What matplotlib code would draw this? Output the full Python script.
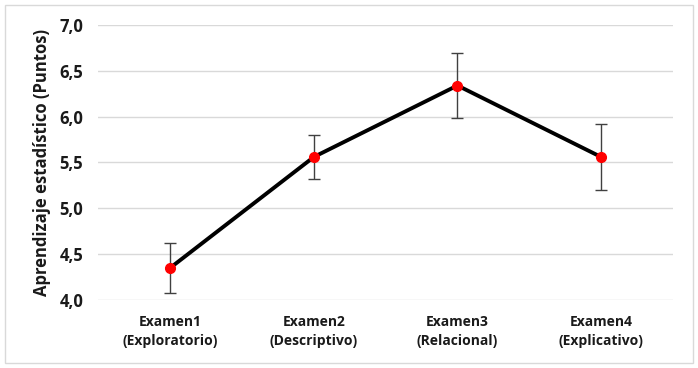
import numpy as np
import matplotlib.pyplot as plt
from matplotlib.patches import Rectangle
from matplotlib.ticker import FuncFormatter

# Data
examenes = ["Examen1\n(Exploratorio)", "Examen2\n(Descriptivo)",
            "Examen3\n(Relacional)", "Examen4\n(Explicativo)"]
medias = [4.35, 5.56, 6.34, 5.56]
errores = [0.27, 0.24, 0.36, 0.36]
yticks = [4.0, 4.5, 5.0, 5.5, 6.0, 6.5, 7.0]

plt.rcParams['font.family'] = ['Open Sans', 'DejaVu Sans']
plt.rcParams['font.weight'] = 'bold'

fig = plt.figure(figsize=(6.98, 3.68), dpi=100)
ax = fig.add_axes([0.141, 0.185, 0.823, 0.747])

x = np.arange(len(examenes))
ax.errorbar(x, medias, yerr=errores, fmt='none', ecolor='#404040',
            elinewidth=1, capsize=4, capthick=1, zorder=2)
ax.plot(x, medias, color='black', lw=2.8, zorder=3)
ax.plot(x, medias, 'o', color='#ff0000', ms=7, zorder=4)

ax.set_xlim(-0.5, len(examenes) - 0.5)
ax.set_ylim(4.0, 7.0)
ax.set_yticks(yticks)
ax.yaxis.set_major_formatter(FuncFormatter(lambda v, p: f"{v:.1f}".replace('.', ',')))
ax.set_xticks(x)
ax.set_xticklabels(examenes, fontsize=10, fontweight='bold', color='#1a1a1a',
                   linespacing=1.4)
ax.tick_params(axis='y', labelsize=12, length=0, pad=11, labelcolor='#1a1a1a')
ax.tick_params(axis='x', length=0, pad=11)

ax.grid(axis='y', color='#d9d9d9', lw=1)
ax.set_axisbelow(True)
for s in ax.spines.values():
    s.set_visible(False)

ax.set_ylabel("Aprendizaje estadístico (Puntos)", fontsize=12,
              fontweight='bold', color='#1a1a1a', labelpad=6)

# outer frame around the chart area
fig.patches.append(Rectangle((0.007, 0.014), 0.986, 0.972, transform=fig.transFigure,
                             fill=False, edgecolor='#d9d9d9', lw=1))

fig.savefig("out.png", dpi=100)
